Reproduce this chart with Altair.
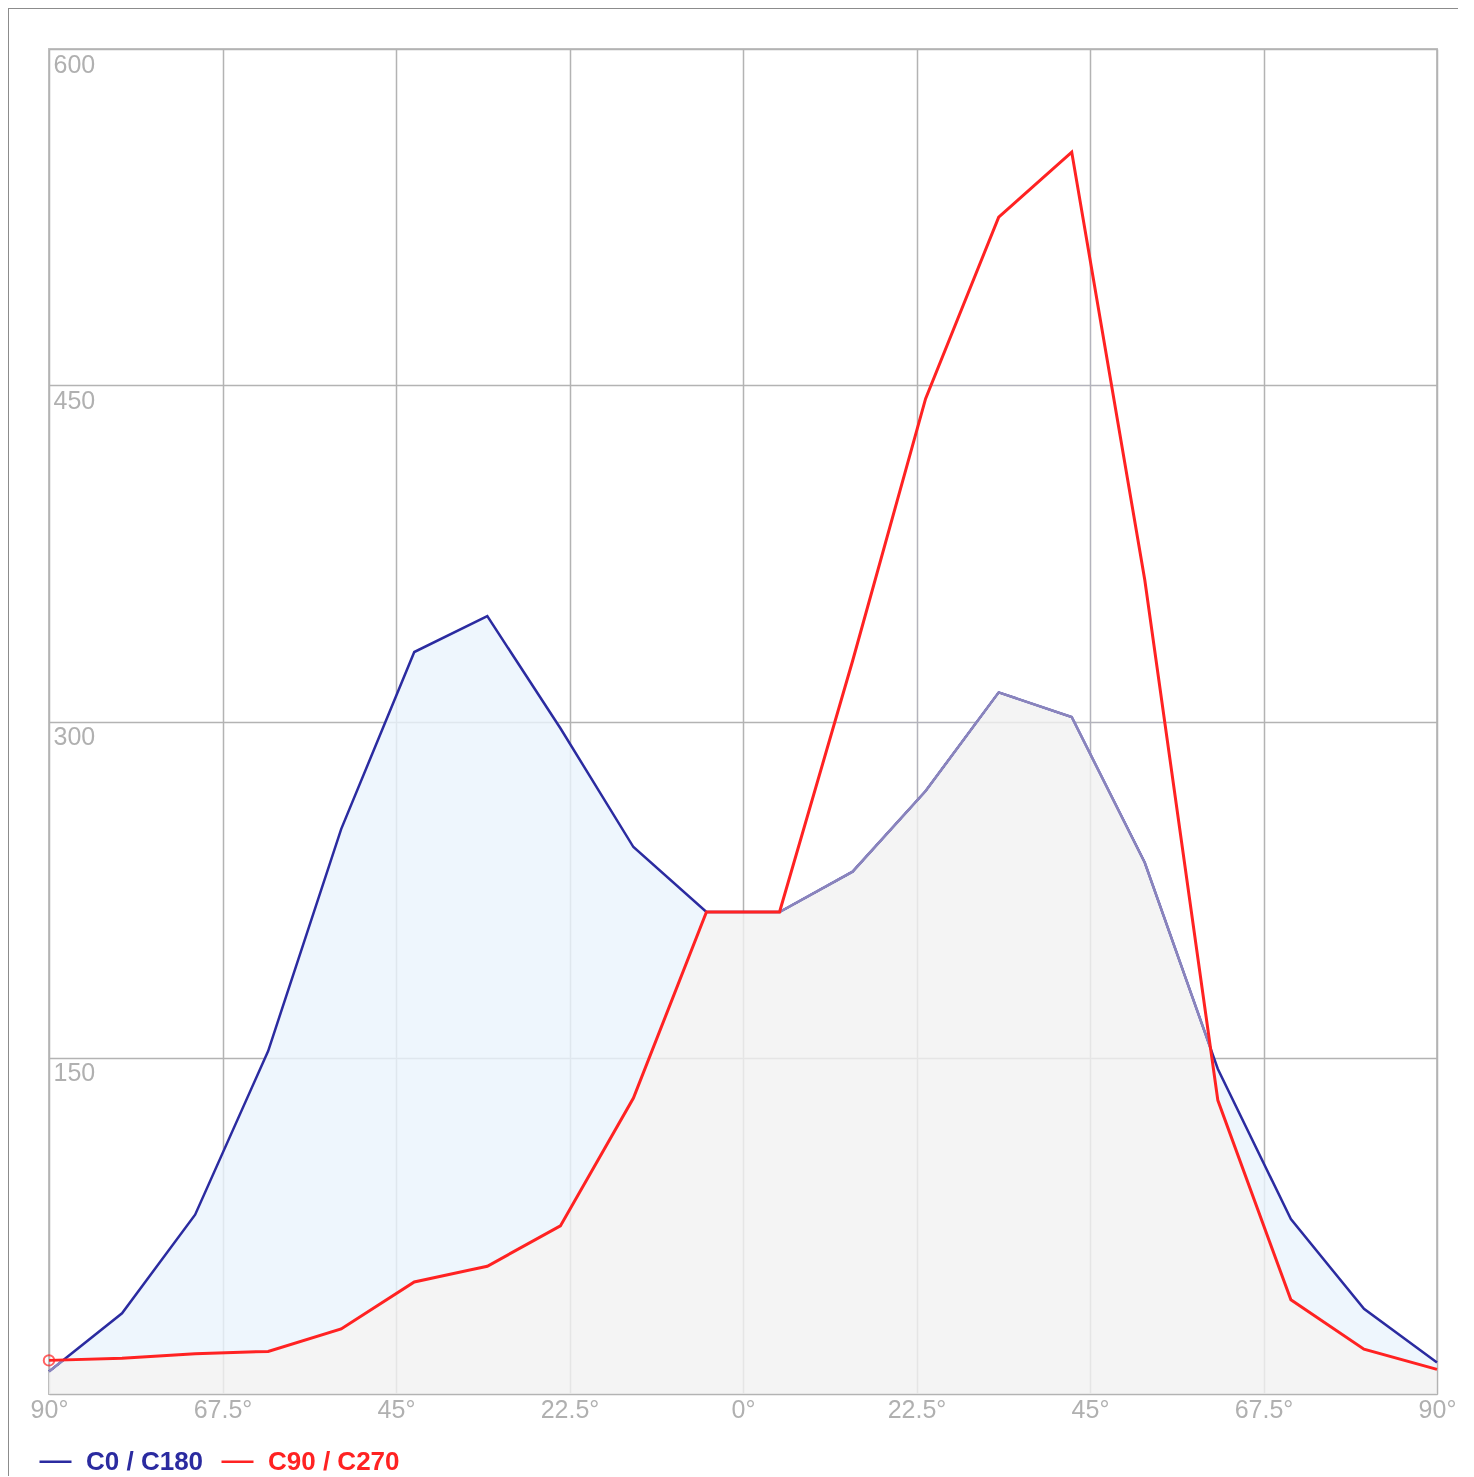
import altair as alt
import pandas as pd

# ---- data ----
angles = [-90.0, -80.53, -71.05, -61.58, -52.11, -42.63, -33.16, -23.68, -14.21, -4.74,
          4.74, 14.21, 23.68, 33.16, 42.63, 52.11, 61.58, 71.05, 80.53, 90.0]
c0_c180 = [10, 36, 80, 153, 252, 331, 347, 297, 244, 215,
           215, 233, 269, 313, 302, 237, 145, 78, 38, 14]
c90_c270 = [15, 16, 18, 19, 29, 50, 57, 75, 132, 215,
            215, 327, 444, 525, 554, 363, 131, 42, 20, 11]
series_names = ["C0 / C180", "C90 / C270"]
x_ticks = [-90, -67.5, -45, -22.5, 0, 22.5, 45, 67.5, 90]
y_ticks = [0, 150, 300, 450, 600]

BLUE = "#2b2ba0"
RED = "#ff2222"
FONT = "Liberation Sans"
W, H = 1388, 1345

wide = pd.DataFrame({"angle": angles, "blue": c0_c180, "red": c90_c270})
long = pd.concat([
    pd.DataFrame({"angle": angles, "value": c0_c180, "series": series_names[0]}),
    pd.DataFrame({"angle": angles, "value": c90_c270, "series": series_names[1]}),
])

xaxis = alt.Axis(values=x_ticks, labelExpr="abs(datum.value) + '°'", grid=True,
                 domain=False, ticks=False, tickSize=0, labelPadding=3,
                 labelBaseline="top", labelFlush=False, labelOverlap=False)
yaxis = alt.Axis(values=y_ticks, labelExpr="datum.value == 0 ? '' : datum.label",
                 grid=True, domain=False, ticks=False, tickSize=0, labelPadding=-4,
                 labelAlign="left", labelBaseline="top", labelOffset=3,
                 labelFlush=False, labelOverlap=False)
xs = alt.Scale(domain=[-90, 90], nice=False)
ys = alt.Scale(domain=[0, 600], nice=False)


def X():
    return alt.X("angle:Q", scale=xs, axis=xaxis, title=None)


def Y(field):
    return alt.Y(f"{field}:Q", scale=ys, axis=yaxis, title=None)


color = alt.Color(
    "series:N",
    scale=alt.Scale(domain=series_names, range=[BLUE, RED]),
    legend=alt.Legend(
        orient="none", legendX=-11, legendY=1395, direction="horizontal",
        title=None, symbolType="stroke", symbolSize=1024, symbolStrokeWidth=2.5,
        labelFont=FONT, labelFontSize=26, labelFontWeight="bold",
        labelColor=alt.ExprRef(expr=f"datum.value == '{series_names[0]}' ? '{BLUE}' : '{RED}'"),
        labelOffset=13, columnPadding=12, padding=0, labelLimit=400,
    ),
)

blue_fill = alt.Chart(wide).mark_area(color="#eaf4fd", opacity=0.8).encode(x=X(), y=Y("blue"))
desat = alt.Chart(wide).mark_area(color="#888888", blend="saturation").encode(x=X(), y=Y("red"))
blue_line = alt.Chart(long).transform_filter(
    alt.datum.series == series_names[0]
).mark_line(strokeWidth=2.5).encode(x=X(), y=Y("value"), color=color)
lighten = alt.Chart(wide).mark_area(color="#8a84bc", blend="lighten").encode(x=X(), y=Y("red"))
red_line = alt.Chart(long).transform_filter(
    alt.datum.series == series_names[1]
).mark_line(strokeWidth=3).encode(x=X(), y=Y("value"), color=color)
red_pt = alt.Chart(wide).transform_filter(alt.datum.angle == -90).mark_point(
    shape="circle", filled=False, color=RED, size=110, strokeWidth=2
).encode(x=X(), y=Y("red"))

frame_df = pd.DataFrame({"k": [0]})
top_border = alt.Chart(frame_df).mark_rule(color="#8c8c8c", strokeWidth=2).encode(
    x=alt.value(-41), x2=alt.value(W + 40), y=alt.value(-41))
left_border = alt.Chart(frame_df).mark_rule(color="#8c8c8c", strokeWidth=2).encode(
    x=alt.value(-41), y=alt.value(-41), y2=alt.value(H + 90))

chart = alt.layer(
    blue_fill, desat, blue_line, lighten, red_line, red_pt, top_border, left_border
).properties(
    width=W, height=H,
    padding={"left": 41, "top": 41, "right": 21, "bottom": 82},
    autosize=alt.AutoSizeParams(type="none"),
).configure_view(
    stroke="#c2c2c2", strokeWidth=2
).configure_axis(
    gridColor="#b3b3b3", gridWidth=1.5, labelFont=FONT, labelFontSize=25,
    labelColor="#b0b0b0"
)

chart.save("out.html", embed_options={"renderer": "svg", "actions": False})
